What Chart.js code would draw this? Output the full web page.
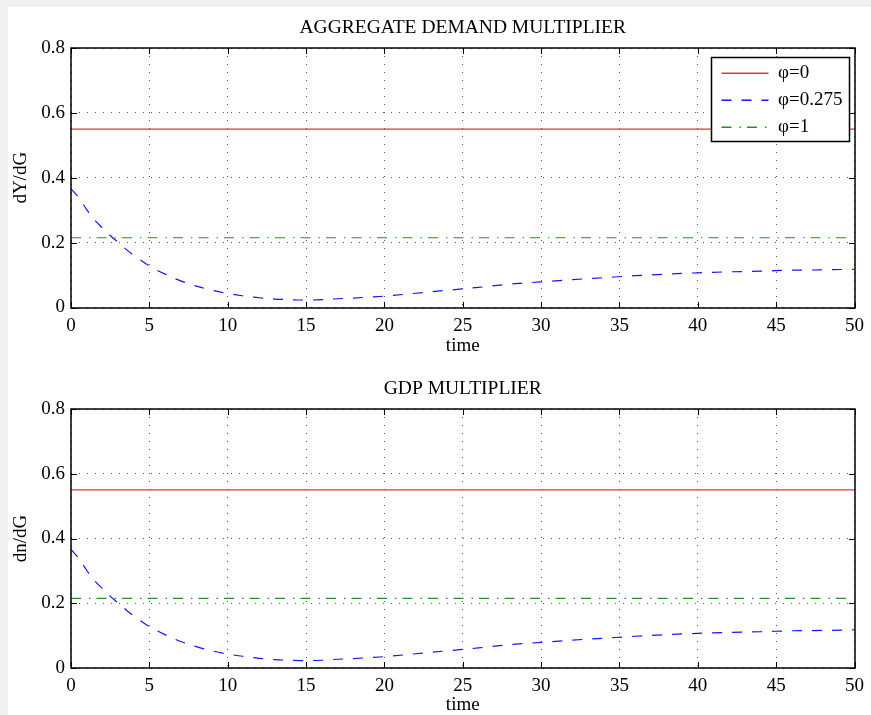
<!DOCTYPE html>
<html>
<head>
<meta charset="utf-8">
<script src="https://cdn.jsdelivr.net/npm/chart.js@4"></script>
<style>
  html, body { margin: 0; padding: 0; background: #f0f0f0; overflow: hidden; }
  #sheet { position: absolute; left: 8px; top: 7px; width: 863px; height: 708px; background: #fff; }
  #sheet canvas { position: absolute; left: 0; }
  #demandChart { top: 0; }
  #gdpChart { top: 350px; }
</style>
</head>
<body>
<div id="sheet">
  <canvas id="demandChart" width="863" height="350"></canvas>
  <canvas id="gdpChart" width="863" height="358"></canvas>
</div>
<script>
// 데이터
const xTicks = [0, 5, 10, 15, 20, 25, 30, 35, 40, 45, 50];
const yTicks = [0, 0.2, 0.4, 0.6, 0.8];
const seriesNames = ['\u03c6=0', '\u03c6=0.275', '\u03c6=1'];

const flatTime = [0, 50];
const demandPhi0 = [0.55, 0.55];
const demandPhi1 = [0.215, 0.215];
const gdpPhi0 = [0.55, 0.55];
const gdpPhi1 = [0.215, 0.215];

const curveTime = [0, 0.5, 1, 1.5, 2, 2.5, 3, 3.5, 4, 5, 6, 7, 8, 9, 10, 11, 12, 13, 14, 15,
  16, 17, 18, 19, 20, 22, 24, 26, 28, 30, 32, 34, 36, 38, 40, 42, 44, 46, 48, 50];
const demandPhi0275 = [0.366, 0.338, 0.302, 0.270, 0.246, 0.222, 0.201, 0.180, 0.161, 0.128,
  0.103, 0.082, 0.066, 0.053, 0.043, 0.036, 0.030, 0.026, 0.024, 0.023,
  0.024, 0.027, 0.029, 0.032, 0.035, 0.044, 0.053, 0.062, 0.072, 0.079,
  0.086, 0.092, 0.098, 0.103, 0.107, 0.110, 0.112, 0.115, 0.116, 0.118];
const gdpPhi0275 = [0.366, 0.338, 0.302, 0.270, 0.246, 0.222, 0.201, 0.180, 0.161, 0.128,
  0.103, 0.082, 0.066, 0.053, 0.043, 0.036, 0.030, 0.026, 0.024, 0.023,
  0.024, 0.027, 0.029, 0.032, 0.035, 0.044, 0.053, 0.062, 0.072, 0.079,
  0.086, 0.092, 0.098, 0.103, 0.107, 0.110, 0.112, 0.115, 0.116, 0.118];

const toPoints = (xs, ys) => xs.map((x, i) => ({ x: x, y: ys[i] }));

Chart.defaults.font.family = '"Liberation Serif", "Times New Roman", serif';
Chart.defaults.font.size = 19;
Chart.defaults.color = '#000';

// MATLAB 스타일 박스와 안쪽 눈금
const matlabBox = {
  id: 'matlabBox',
  afterDraw(chart) {
    const { ctx, chartArea: a, scales: { x, y } } = chart;
    const L = Math.round(a.left), R = Math.round(a.right), T = Math.round(a.top), B = Math.round(a.bottom);
    ctx.save();
    ctx.strokeStyle = '#000';
    ctx.lineWidth = 1.5;
    ctx.strokeRect(L, T, R - L, B - T);
    ctx.lineWidth = 1;
    ctx.beginPath();
    x.ticks.forEach(t => {
      const px = Math.round(x.getPixelForValue(t.value)) + 0.5;
      ctx.moveTo(px, B); ctx.lineTo(px, B - 6);
      ctx.moveTo(px, T); ctx.lineTo(px, T + 6);
    });
    y.ticks.forEach(t => {
      const py = Math.round(y.getPixelForValue(t.value)) + 0.5;
      ctx.moveTo(L, py); ctx.lineTo(L + 6, py);
      ctx.moveTo(R, py); ctx.lineTo(R - 6, py);
    });
    ctx.stroke();
    ctx.restore();
  }
};

// 범례를 플롯 오른쪽 위 테두리 상자 안에 배치
const legendFrame = {
  id: 'legendFrame',
  afterLayout(chart) {
    const lg = chart.legend;
    if (!lg || !lg.options.display) return;
    const a = chart.chartArea;
    const frame = { x: Math.round(a.right - 144) + 0.5, y: Math.round(a.top + 9) + 0.5, w: 138, h: 84 };
    chart.$frame = frame;
    lg.left = frame.x + 2; lg.top = frame.y - 1.8;
    lg.width = 136; lg.height = 130;
    lg.right = lg.left + 136; lg.bottom = lg.top + 130;
  },
  afterDatasetsDraw(chart) {
    const lg = chart.legend;
    const f = chart.$frame;
    if (!lg || !f || !lg.options.display) return;
    const ctx = chart.ctx;
    ctx.save();
    ctx.fillStyle = '#fff';
    ctx.fillRect(f.x, f.y, f.w, f.h);
    ctx.strokeStyle = '#000';
    ctx.lineWidth = 1.5;
    ctx.strokeRect(f.x, f.y, f.w, f.h);
    ctx.restore();
    lg.draw();
  }
};

function makeDatasets(phi0, phi0275, phi1) {
  return [
    {
      label: seriesNames[0],
      data: toPoints(flatTime, phi0),
      borderColor: 'rgb(235, 50, 50)',
      borderWidth: 1.2,
      pointRadius: 0
    },
    {
      label: seriesNames[1],
      data: toPoints(curveTime, phi0275),
      borderColor: 'rgb(20, 20, 255)',
      borderWidth: 1.2,
      borderDash: [10, 10],
      cubicInterpolationMode: 'monotone',
      pointRadius: 0
    },
    {
      label: seriesNames[2],
      data: toPoints(flatTime, phi1),
      borderColor: 'rgb(40, 140, 40)',
      borderWidth: 1.2,
      borderDash: [10, 8, 1.5, 6],
      pointRadius: 0
    }
  ];
}

function makeOptions(titleText, yLabel, cfg) {
  return {
    responsive: false,
    animation: false,
    layout: { padding: { left: 0, right: 13, top: 0, bottom: 0 } },
    plugins: {
      title: {
        display: true,
        fullSize: false,
        text: titleText,
        font: { size: 19.5, weight: 'normal' },
        padding: { top: cfg.titleTop, bottom: 8.3 }
      },
      legend: {
        display: cfg.legend,
        position: 'chartArea',
        align: 'start',
        labels: {
          usePointStyle: true,
          pointStyle: 'line',
          pointStyleWidth: 47,
          padding: 8,
          font: { size: 19 },
          generateLabels(chart) {
            return chart.data.datasets.map((ds, i) => ({
              text: ds.label,
              datasetIndex: i,
              hidden: !chart.isDatasetVisible(i),
              pointStyle: 'line',
              strokeStyle: ds.borderColor,
              fillStyle: ds.borderColor,
              lineWidth: 1.5,
              lineDash: ds.borderDash || [],
              fontColor: '#000'
            }));
          }
        }
      },
      tooltip: { enabled: false }
    },
    scales: {
      x: {
        type: 'linear',
        min: 0,
        max: 50,
        afterBuildTicks: s => { s.ticks = xTicks.map(v => ({ value: v })); },
        afterFit: s => { s.height = cfg.xHeight; },
        ticks: { padding: 7, font: { size: 19 } },
        grid: { color: '#555', lineWidth: 1, drawTicks: false },
        border: { display: false, dash: [1, 7] },
        title: { display: true, text: 'time', font: { size: 19, lineHeight: 1 }, padding: { top: 0, bottom: cfg.timePad } }
      },
      y: {
        type: 'linear',
        min: 0,
        max: 0.8,
        afterBuildTicks: s => { s.ticks = yTicks.map(v => ({ value: v })); },
        afterFit: s => { s.width = 63; },
        ticks: { padding: 6, font: { size: 19 } },
        grid: { color: '#555', lineWidth: 1, drawTicks: false },
        border: { display: false, dash: [1, 7] },
        title: { display: true, text: yLabel, font: { size: 19, lineHeight: 1 }, padding: { top: 4, bottom: 0 } }
      }
    }
  };
}

// 위쪽: 총수요 승수
const demandChart = new Chart(document.getElementById('demandChart').getContext('2d'), {
  type: 'line',
  data: { datasets: makeDatasets(demandPhi0, demandPhi0275, demandPhi1) },
  options: makeOptions('AGGREGATE DEMAND MULTIPLIER', 'dY/dG', { titleTop: 9.3, xHeight: 49.5, timePad: 1.5, legend: true }),
  plugins: [legendFrame, matlabBox]
});

// 아래쪽: GDP 승수
const gdpChart = new Chart(document.getElementById('gdpChart').getContext('2d'), {
  type: 'line',
  data: { datasets: makeDatasets(gdpPhi0, gdpPhi0275, gdpPhi1) },
  options: makeOptions('GDP MULTIPLIER', 'dn/dG', { titleTop: 20.3, xHeight: 47, timePad: 0, legend: false }),
  plugins: [matlabBox]
});
</script>
</body>
</html>
